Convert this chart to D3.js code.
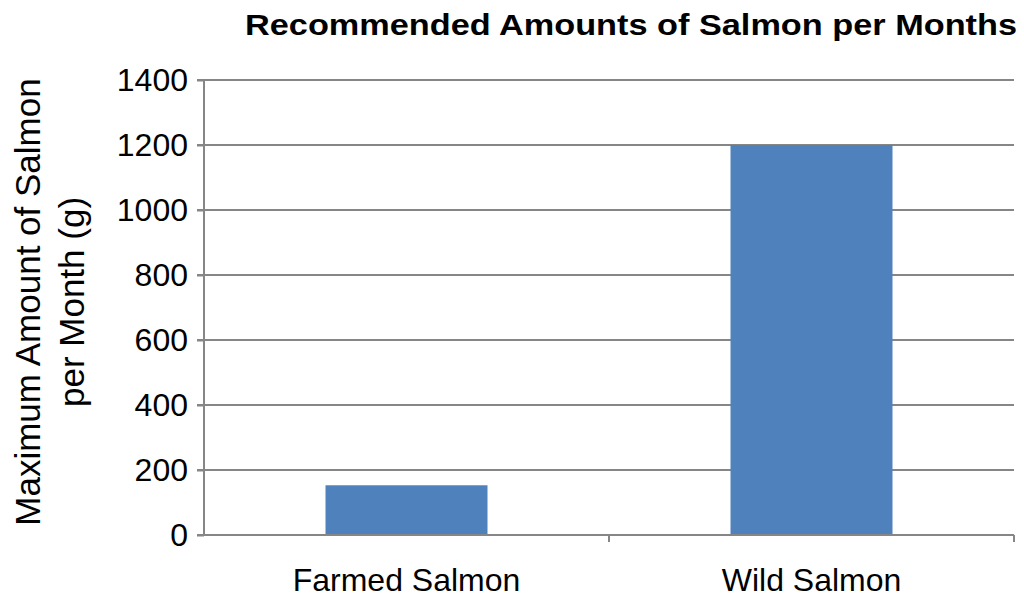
<!DOCTYPE html>
<html>
<head>
<meta charset="utf-8">
<script src="https://cdn.jsdelivr.net/npm/d3@7"></script>
<style>
body{margin:0;background:#fff;}
text{font-family:"Liberation Sans",Arial,sans-serif;fill:#000;}
</style>
</head>
<body>
<script>
let categories=['Farmed Salmon','Wild Salmon'];
let amounts=[153,1200];
let yTicks=[0,200,400,600,800,1000,1200,1400];
let chartTitle='Recommended Amounts of Salmon per Months';
let yTitle=['Maximum Amount of Salmon','per Month (g)'];

let W=1024,H=595;
let m={l:204,r:10,t:80,b:60};
let gray='#868686';

let svg=d3.select('body').append('svg').attr('width',W).attr('height',H);

let x=d3.scaleBand().domain(categories).range([m.l,W-m.r]).paddingInner(0.6).paddingOuter(0.3);
let y=d3.scaleLinear().domain([0,1400]).range([H-m.b,m.t]);

// gridlines
svg.append('g').selectAll('line').data(yTicks.filter(d=>d>0)).enter().append('line')
    .attr('x1',m.l-7).attr('x2',W-m.r)
    .attr('y1',d=>y(d)).attr('y2',d=>y(d))
    .attr('stroke',gray).attr('stroke-width',2);

// bars
svg.append('g').selectAll('rect').data(amounts).enter().append('rect')
    .attr('x',(d,i)=>x(categories[i]))
    .attr('width',x.bandwidth())
    .attr('y',d=>y(d))
    .attr('height',d=>y(0)-y(d))
    .attr('fill','#4f81bd');

// y axis
let ya=svg.append('g').attr('transform','translate('+m.l+',0)')
    .call(d3.axisLeft(y).tickValues(yTicks).tickFormat(d3.format('d')).tickSize(7).tickPadding(9));
ya.select('.domain').attr('stroke',gray).attr('stroke-width',2).attr('d','M0,'+m.t+'V'+(H-m.b));
ya.selectAll('.tick line').attr('stroke',gray).attr('stroke-width',2);
ya.selectAll('.tick text').style('font-size','32px').attr('font-family',null);

// x axis
let xa=svg.append('g').attr('transform','translate(0,'+(H-m.b)+')')
    .call(d3.axisBottom(x).tickSize(0).tickPadding(33));
xa.select('.domain').attr('stroke',gray).attr('stroke-width',2).attr('d','M'+(m.l-7)+',0H'+(W-m.r));
xa.selectAll('.tick text').style('font-size','32px').attr('font-family',null);
let step=x.step();
svg.append('g').selectAll('line').data([m.l+step,m.l+2*step]).enter().append('line')
    .attr('x1',d=>d).attr('x2',d=>d)
    .attr('y1',H-m.b).attr('y2',H-m.b+7)
    .attr('stroke',gray).attr('stroke-width',2);

// title (stretched like the original)
svg.append('text').attr('x',245).attr('y',35)
    .attr('textLength',772).attr('lengthAdjust','spacingAndGlyphs')
    .style('font-size','29px').style('font-weight','bold').text(chartTitle);

// y title
svg.append('g').attr('transform','translate(40,302) rotate(-90)')
    .selectAll('text').data(yTitle).enter().append('text')
    .attr('x',0).attr('y',(d,i)=>i*44)
    .attr('text-anchor','middle').style('font-size','35px').text(d=>d);
</script>
</body>
</html>
